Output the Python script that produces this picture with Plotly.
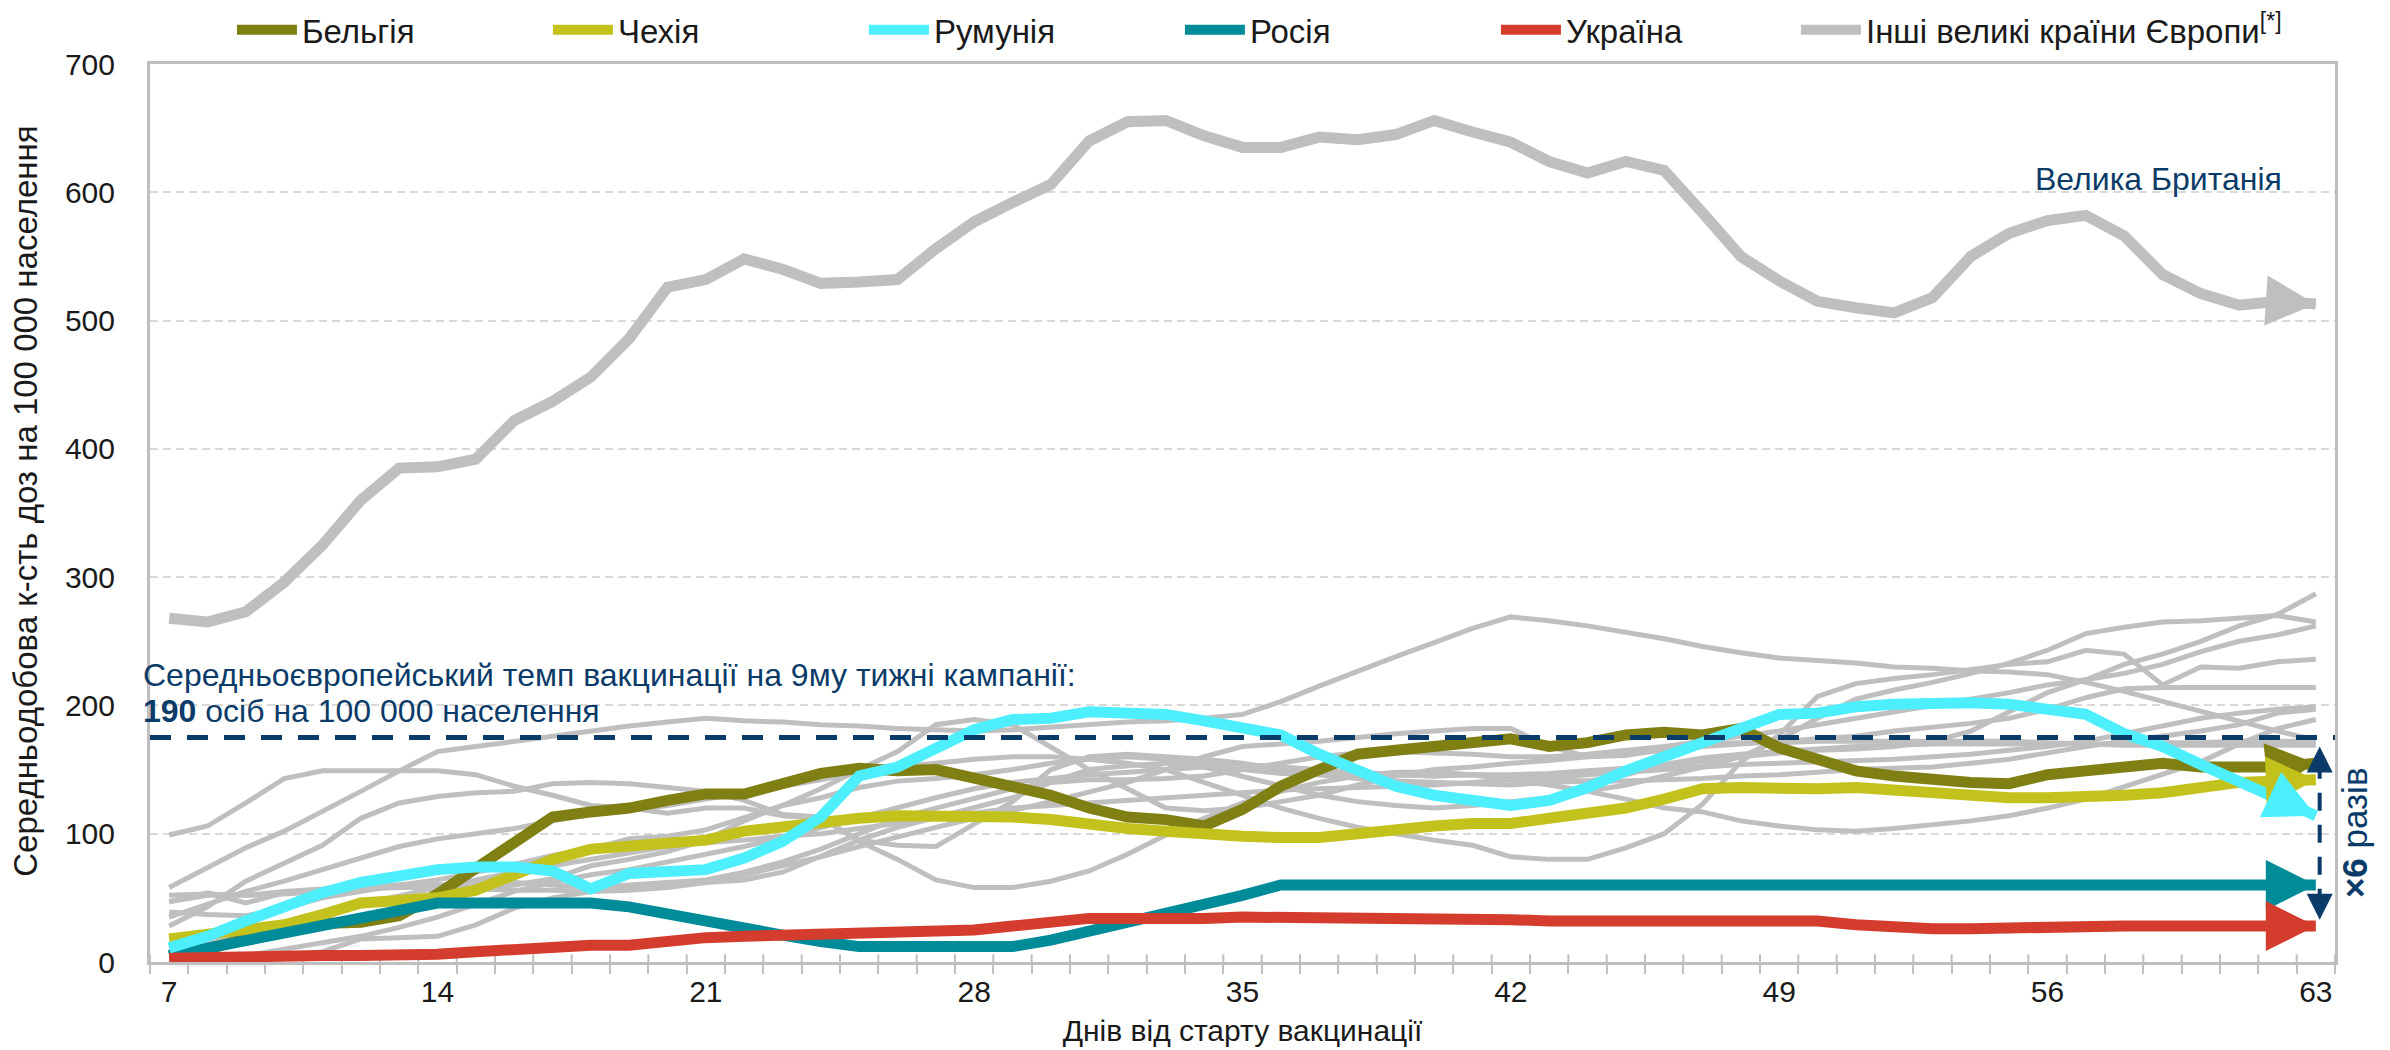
import plotly.graph_objects as go
import numpy as np

# ---------------- data ----------------
DAYS = list(range(7, 64))
X_TICKS = [7, 14, 21, 28, 35, 42, 49, 56, 63]
Y_TICKS = [0, 100, 200, 300, 400, 500, 600, 700]

BELGIUM = [5, 10, 18, 25, 30, 31, 36, 53, 73, 94, 113, 117,
           120, 126, 131, 131, 140, 147, 151, 149, 150, 143, 137,
           130, 120, 113, 111, 106, 119, 137, 150, 162, 165, 168, 171,
           174, 168, 171, 177, 179, 177, 182, 167, 159, 149, 145,
           142, 140, 139, 146, 149, 153, 155, 152, 152, 152, 155]
CZECH = [18, 21, 25, 29, 37, 46, 48, 50, 56, 69, 80, 88,
         91, 93, 95, 102, 106, 109, 112, 114, 114, 114, 113,
         111, 107, 104, 102, 99, 98, 97, 97, 100, 104, 106, 108,
         108, 112, 115, 120, 127, 135, 136, 135, 135, 136, 134,
         132, 129, 128, 128, 128, 130, 132, 137, 140, 141, 142]
ROMANIA = [11, 20, 32, 43, 54, 62, 67, 72, 74, 74, 71, 57,
           69, 71, 72, 81, 94, 113, 145, 152, 167, 181, 189,
           190, 195, 194, 193, 188, 182, 177, 162, 149, 137, 130, 125,
           122, 126, 136, 149, 160, 169, 181, 193, 194, 199, 201,
           202, 202, 201, 198, 193, 178, 168, 154, 141, 128, 114]
RUSSIA = [5, 11, 17, 23, 29, 34, 40, 46, 46, 46, 46, 46,
          43, 37, 32, 26, 21, 16, 12, 12, 12, 12, 12,
          17, 24, 29, 36, 43, 52, 60, 60, 60, 60, 60, 60,
          60, 60, 60, 60, 60, 60, 60, 60, 60, 60, 60,
          60, 60, 60, 60, 60, 60, 60, 60, 60, 60, 60]
UKRAINE = [3, 4, 4, 4, 5, 5, 5, 6, 8, 10, 12, 13,
           13, 17, 19, 20, 21, 22, 22, 22, 23, 25, 28,
           32, 34, 34, 33, 34, 35, 35, 35, 35, 35, 34, 34,
           33, 32, 32, 32, 32, 32, 31, 31, 32, 29, 27,
           26, 26, 27, 27, 27, 28, 28, 28, 28, 28, 28]
UK = [268, 265, 273, 296, 325, 360, 385, 386, 392, 422, 437, 456,
      486, 526, 532, 548, 540, 529, 530, 532, 556, 577, 592,
      606, 640, 655, 656, 644, 635, 635, 643, 641, 645, 656, 647,
      639, 624, 615, 624, 617, 584, 550, 531, 515, 510, 506,
      518, 550, 568, 578, 582, 566, 536, 521, 512, 515, 513]

# other large European countries (thin grey lines)
G1 = [58, 73, 89, 102, 117, 133, 149, 164, 168, 172, 176, 180,
      184, 187, 190, 188, 187, 185, 184, 182, 181, 180, 181,
      183, 185, 187, 188, 190, 193, 203, 215, 227, 238, 249, 260,
      269, 266, 262, 257, 252, 246, 241, 237, 235, 233, 230,
      229, 227, 226, 224, 218, 211, 203, 195, 188, 180, 173]
G2 = [99, 106, 124, 143, 149, 149, 149, 149, 146, 137, 130, 122,
      120, 116, 120, 120, 114, 112, 95, 91, 90, 107, 125,
      150, 160, 162, 160, 158, 155, 150, 146, 143, 141, 140, 139,
      138, 140, 141, 141, 142, 143, 145, 146, 148, 150, 151,
      152, 155, 158, 163, 168, 172, 176, 180, 185, 194, 197]
G3 = [28, 43, 63, 77, 91, 112, 124, 129, 132, 133, 139, 140,
      139, 136, 133, 126, 115, 113, 94, 80, 64, 58, 58,
      63, 71, 84, 99, 112, 124, 133, 140, 145, 148, 148, 146,
      143, 142, 141, 146, 154, 159, 162, 164, 166, 168, 169,
      170, 170, 170, 170, 170, 170, 171, 171, 172, 172, 172]
G4 = [47, 54, 46, 54, 56, 58, 59, 60, 58, 60, 65, 75,
      80, 86, 95, 110, 122, 135, 150, 164, 185, 189, 185,
      167, 150, 135, 120, 118, 120, 125, 130, 138, 145, 150, 152,
      155, 157, 160, 162, 165, 168, 170, 172, 174, 176, 180,
      183, 186, 190, 197, 206, 213, 214, 214, 214, 214, 214]
G5 = [39, 37, 36, 42, 50, 55, 60, 64, 70, 76, 83, 88,
      96, 98, 103, 113, 122, 128, 136, 141, 143, 146, 150,
      155, 158, 160, 158, 152, 145, 138, 130, 125, 122, 120, 122,
      125, 128, 133, 138, 145, 152, 160, 173, 190, 205, 212,
      218, 225, 233, 243, 256, 261, 265, 266, 268, 270, 265]
G6 = [2, 3, 4, 5, 8, 18, 19, 20, 29, 42, 50, 55,
      58, 60, 62, 64, 70, 82, 95, 105, 113, 120, 128,
      140, 150, 153, 155, 155, 154, 152, 150, 148, 146, 145, 146,
      146, 147, 149, 151, 153, 156, 160, 163, 165, 166, 168,
      172, 180, 195, 210, 220, 232, 240, 250, 262, 271, 287]
G7 = [35, 45, 55, 63, 72, 82, 90, 96, 100, 104, 110, 115,
      118, 122, 127, 132, 137, 142, 148, 152, 155, 158, 160,
      160, 158, 155, 150, 140, 130, 120, 112, 105, 100, 95, 91,
      82, 80, 80, 89, 100, 123, 156, 177, 207, 217, 221,
      224, 228, 232, 234, 243, 240, 216, 230, 229, 234, 236]
G8 = [0, 2, 5, 10, 15, 20, 27, 35, 45, 55, 62, 68,
      72, 78, 84, 90, 97, 105, 112, 120, 128, 135, 140,
      143, 146, 148, 150, 152, 150, 147, 146, 146, 146, 145, 146,
      142, 138, 133, 127, 120, 117, 110, 106, 103, 102, 104,
      107, 110, 114, 120, 127, 137, 146, 156, 170, 182, 189]
G9 = [47, 52, 52, 53, 55, 57, 58, 58, 57, 56, 56, 55,
      56, 58, 62, 68, 75, 82, 90, 98, 105, 112, 118,
      125, 132, 140, 150, 160, 168, 170, 172, 175, 178, 180, 182,
      182, 168, 160, 161, 166, 170, 171, 171, 172, 172, 172,
      172, 172, 172, 171, 170, 169, 169, 169, 169, 169, 169]
G10 = [52, 53, 52, 55, 57, 60, 60, 60, 61, 62, 60, 58,
       60, 62, 64, 70, 78, 88, 100, 112, 120, 128, 135,
       140, 142, 142, 143, 145, 150, 155, 160, 163, 164, 163, 162,
       160, 160, 162, 165, 168, 172, 176, 180, 185, 190, 195,
       200, 205, 210, 216, 220, 225, 232, 242, 250, 255, 262]
G11 = [10, 15, 22, 30, 38, 45, 52, 58, 64, 70, 75, 80,
       85, 90, 93, 95, 98, 100, 104, 108, 112, 116, 120,
       122, 124, 126, 128, 130, 132, 134, 135, 136, 137, 138, 140,
       142, 144, 146, 148, 150, 152, 154, 155, 156, 157, 158,
       160, 162, 165, 168, 172, 178, 184, 190, 194, 197, 199]
OTHER_LINES = [G1, G2, G3, G4, G5, G6, G7, G8, G9, G10, G11]

AVG_PACE = 175           # European average pace line
UK_LABEL_DAY = 58.9
UK_LABEL_VALUE = 610
SPAN_TOP = 168           # "x6" span arrow
SPAN_BOTTOM = 33

# ---------------- styling ----------------
FONT = "Liberation Sans, Arial, sans-serif"
NAVY = "#0B3B68"
GREY = "#BFBFBF"
C_BEL = "#7F7F14"
C_CZE = "#C3C21C"
C_ROU = "#4DEFFD"
C_RUS = "#008B98"
C_UKR = "#D43D2D"

fig = go.Figure()

for g in OTHER_LINES:
    fig.add_trace(go.Scatter(x=DAYS, y=g, mode="lines", showlegend=False,
                             line=dict(color=GREY, width=5), hoverinfo="skip"))

main = [
    ("Інші великі країни Європи<sup>[*]</sup>", UK, GREY, 11, 6, "legend2"),
    ("Бельгія", BELGIUM, C_BEL, 11, 1, "legend"),
    ("Чехія", CZECH, C_CZE, 11, 2, "legend"),
    ("Росія", RUSSIA, C_RUS, 11, 4, "legend"),
    ("Україна", UKRAINE, C_UKR, 11, 5, "legend"),
    ("Румунія", ROMANIA, C_ROU, 11, 3, "legend"),
]
for name, ys, col, w, rank, leg in main:
    fig.add_trace(go.Scatter(x=DAYS, y=ys, mode="lines", name=name, legend=leg,
                             legendrank=rank, line=dict(color=col, width=w)))

annotations = []
# arrow heads at the end of every highlighted series
for name, ys, col, w, rank, leg in main:
    annotations.append(dict(x=DAYS[-1], y=ys[-1], ax=DAYS[-2], ay=ys[-2],
                            xref="x", yref="y", axref="x", ayref="y",
                            showarrow=True, arrowhead=2, arrowwidth=2, arrowsize=5,
                            arrowcolor=col, text=""))

# minor tick inner halves (ticks cross the axis)
shapes = []
for t in np.arange(6.5, 63.6, 1.0):
    shapes.append(dict(type="line", xref="x", yref="y", x0=t, x1=t, y0=0, y1=6,
                       line=dict(color=GREY, width=2), layer="below"))
# average pace dashed line
shapes.append(dict(type="line", xref="paper", yref="y", x0=0, x1=1, y0=AVG_PACE, y1=AVG_PACE,
                   line=dict(color=NAVY, width=5, dash="21px,16px"), layer="above"))
# x6 span dashed line
span_x = DAYS[-1] + 0.1
shapes.append(dict(type="line", xref="x", yref="y", x0=span_x, x1=span_x,
                   y0=SPAN_BOTTOM + 10, y1=SPAN_TOP - 10,
                   line=dict(color=NAVY, width=4, dash="18px,14px"), layer="above"))

annotations += [
    dict(x=span_x, y=SPAN_TOP, ax=span_x, ay=SPAN_TOP - 12, xref="x", yref="y",
         axref="x", ayref="y", showarrow=True, arrowhead=2, arrowsize=1.3,
         arrowwidth=4, arrowcolor=NAVY, text=""),
    dict(x=span_x, y=SPAN_BOTTOM, ax=span_x, ay=SPAN_BOTTOM + 12, xref="x", yref="y",
         axref="x", ayref="y", showarrow=True, arrowhead=2, arrowsize=1.3,
         arrowwidth=4, arrowcolor=NAVY, text=""),
    dict(x=1.009, y=101, xref="paper", yref="y", text="<b>×6</b> разів", textangle=-90,
         showarrow=False, xanchor="center", yanchor="middle",
         font=dict(family=FONT, size=35, color=NAVY)),
    dict(x=UK_LABEL_DAY, y=UK_LABEL_VALUE, xref="x", yref="y", text="Велика Британія",
         showarrow=False, xanchor="center", yanchor="middle",
         font=dict(family=FONT, size=32, color=NAVY)),
    dict(x=0, y=223.5, xref="paper", yref="y", xshift=-9,
         text="Середньоєвропейський темп вакцинації на 9му тижні кампанії:",
         showarrow=False, xanchor="left", yanchor="middle",
         font=dict(family=FONT, size=32, color=NAVY)),
    dict(x=0, y=196, xref="paper", yref="y", xshift=-9,
         text="<b>190</b> осіб на 100 000 населення",
         showarrow=False, xanchor="left", yanchor="middle",
         font=dict(family=FONT, size=32, color=NAVY)),
    dict(x=-0.057, y=0.513, xref="paper", yref="paper",
         text="Середньодобова к-сть доз на 100 000 населення", textangle=-90,
         showarrow=False, xanchor="center", yanchor="middle",
         font=dict(family=FONT, size=33, color="#1a1a1a")),
]

legend_common = dict(orientation="h", xanchor="left", y=1.038, yanchor="middle",
                     font=dict(family=FONT, size=33, color="#1a1a1a"),
                     itemwidth=60, bgcolor="rgba(0,0,0,0)", traceorder="normal")

fig.update_layout(
    width=2390, height=1050, autosize=False,
    margin=dict(l=142, r=63, t=56, b=96, autoexpand=False),
    paper_bgcolor="white", plot_bgcolor="white",
    font=dict(family=FONT, size=30, color="#1a1a1a"),
    showlegend=True,
    legend=dict(x=0.0375, entrywidth=241, entrywidthmode="pixels", **legend_common),
    legend2=dict(x=0.7533, **legend_common),
    xaxis=dict(range=[6.5, 63.5], tickvals=X_TICKS, ticks="outside", ticklen=1,
               tickcolor="rgba(0,0,0,0)", showgrid=False, zeroline=False,
               showline=True, linecolor=GREY, linewidth=3, mirror=True,
               tickfont=dict(family=FONT, size=30, color="#1a1a1a"),
               minor=dict(tick0=6.5, dtick=1, ticks="outside", ticklen=9, tickwidth=2,
                          tickcolor=GREY, showgrid=False),
               title=dict(text="Днів від старту вакцинації", standoff=13,
                          font=dict(family=FONT, size=30, color="#1a1a1a"))),
    yaxis=dict(range=[0, 700], tickvals=Y_TICKS, ticks="outside", ticklen=26,
               tickcolor="rgba(0,0,0,0)", showgrid=True, gridcolor="#D9D9D9",
               griddash="8px,5px", gridwidth=2, zeroline=False,
               showline=True, linecolor=GREY, linewidth=3, mirror=True,
               tickfont=dict(family=FONT, size=30, color="#1a1a1a")),
    shapes=shapes, annotations=annotations,
)

fig.write_html("out.html")
